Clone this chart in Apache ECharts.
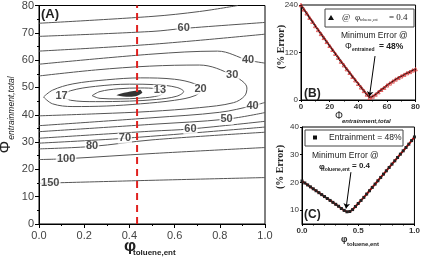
<!DOCTYPE html>
<html>
<head>
<meta charset="utf-8">
<script src="https://cdn.jsdelivr.net/npm/echarts@6/dist/echarts.min.js"></script>
<style>
  html, body { margin: 0; padding: 0; background: #fff; }
  #main { width: 423px; height: 258px; }
</style>
</head>
<body>
<div id="main"></div>
<script>
// (A) contour lines, [phi_toluene, Phi_entrainment]
const level150 = [[0,14.9],[0.5,16],[1,17]];
const level100 = [[0,23.6],[0.12,23.9],[0.5,25.8],[1,28]];
const level80 = [[0,27.5],[0.235,28.4],[0.5,30.8],[1,33.6]];
const level70low = [[0,29.6],[0.38,31.4],[1,35.5]];
const level60low = [[0,31.4],[0.5,34],[0.67,34.8],[1,37.6]];
const level50low = [[0,33.8],[0.5,36.5],[0.83,38.4],[1,40.8]];
const level40low = [[0,36],[0.5,38.9],[0.8,40.9],[0.945,43.3],[1,44.5]];
const level30 = [[0,54.2],[0.25,56.4],[0.49,57.8],[0.71,58.2],[0.855,54.5],[0.92,49.8],[0.91,46.9],[0.86,44.4],[0.71,42.6],[0.49,41.2],[0.27,40.4],[0,39.6]];
const level40up = [[0,58.5],[0.5,62.2],[0.79,63.3],[0.925,60],[1,58.9]];
const level50up = [[0,63.3],[0.5,65.8],[1,69.5]];
const level60up = [[0,68.7],[0.5,70.5],[0.64,71.6],[1,73.8]];
const level70up = [[0,73.5],[0.5,76],[0.71,77.8],[0.88,80]];
const level20 = [[0.02,46.5],[0.06,49],[0.15,51.3],[0.3,52.8],[0.45,53.5],[0.6,53],[0.69,51.3],[0.72,49.3],[0.69,47],[0.6,45.3],[0.45,44],[0.3,43.2],[0.15,43],[0.06,44],[0.02,46.5]];
const level17 = [[0.1,46.8],[0.14,48.8],[0.25,50.4],[0.4,51.2],[0.52,51],[0.61,50],[0.64,48.5],[0.61,46.8],[0.52,45.6],[0.4,45],[0.25,44.8],[0.14,45.3],[0.1,46.8]];
const level13 = [[0.235,47],[0.27,48.5],[0.35,49.5],[0.45,49.8],[0.52,49.5],[0.555,48.4],[0.53,47],[0.45,46.1],[0.35,45.8],[0.27,46],[0.235,47]];
const contourLines = [level150, level100, level80, level70low, level60low, level50low, level40low,
  level30, level40up, level50up, level60up, level70up, level20, level17, level13];

const labelText = ['150','100','80','70','60','50','40','30','40','60','20','13','17'];
const labelX = [0.05,0.12,0.235,0.38,0.67,0.83,0.945,0.855,0.925,0.64,0.715,0.535,0.1];
const labelY = [15,23.9,28.4,31.4,34.8,38.4,43.3,54.5,60,71.6,49.4,49,46.8];

const minimumPoint = [0.40, 47.9];
const phiSelected = 0.434;

// (B) error vs entrainment at phi_toluene = 0.4
const bX = [0,2,4,6,8,10,12,14,16,18,20,22,24,26,28,30,32,34,36,38,40,42,44,46,48,50,52,54,56,58,60,62,64,66,68,70,72,74,76,78,80];
const bY = [240,229,219,208,198,187,177,167,157,147,137,127,117,107,97,88,78,69,59,50,41,32,23,14,6,9,14,20,26,31,37,42,47,52,56,60,64,68,71,75,78];

// (C) error vs phi_toluene at entrainment = 48%
const cX = [0,0.025,0.05,0.075,0.1,0.125,0.15,0.175,0.2,0.225,0.25,0.275,0.3,0.325,0.35,0.375,0.4,0.425,0.45,0.475,0.5,0.525,0.55,0.575,0.6,0.625,0.65,0.675,0.7,0.725,0.75,0.775,0.8,0.825,0.85,0.875,0.9,0.925,0.95,0.975,1];
const cY = [20.5,19.8,19.1,18.4,17.7,17.0,16.3,15.6,14.9,14.2,13.5,12.8,12.1,11.4,10.6,9.9,9.4,9.5,10.2,11.3,12.4,13.5,14.6,15.8,17.0,18.2,19.4,20.6,21.8,23.0,24.2,25.4,26.6,27.8,29.0,30.2,31.4,32.6,33.8,35.1,36.4];

const FONT = '"Liberation Sans", Arial, sans-serif';
const SERIF = '"Liberation Serif", "Times New Roman", serif';

function axisBase(extra) {
  return Object.assign({
    type: 'value',
    axisLine: { show: true, onZero: false, lineStyle: { color: '#000', width: 1 } },
    axisTick: { show: true, inside: false, length: 4, lineStyle: { color: '#000' } },
    splitLine: { show: false },
    axisLabel: { fontFamily: FONT, color: '#444', fontSize: 11 }
  }, extra);
}

let chart = echarts.init(document.getElementById('main'), null, { renderer: 'canvas' });

let series = [];
contourLines.forEach(function (pts) {
  series.push({
    type: 'line', xAxisIndex: 0, yAxisIndex: 0, data: pts,
    showSymbol: false, smooth: 0.35, silent: true, z: 2,
    lineStyle: { color: '#555', width: 1 }
  });
});
series.push({
  type: 'scatter', xAxisIndex: 0, yAxisIndex: 0, z: 3, silent: true,
  symbolSize: 1, itemStyle: { color: 'rgba(0,0,0,0)' },
  data: labelText.map(function (t, i) { return [labelX[i], labelY[i], t]; }),
  label: {
    show: true, position: 'inside', formatter: function (p) { return p.value[2]; },
    fontFamily: FONT, fontSize: 11, fontWeight: 'bold', color: '#222',
    backgroundColor: '#fff', padding: [0, 1]
  }
});
series.push({
  type: 'scatter', xAxisIndex: 0, yAxisIndex: 0, z: 4, silent: true,
  symbol: 'path://M0,6 C6,3 16,2 26,0 L28,3 C24,8 14,9 0,6 Z',
  symbolSize: [26, 7], itemStyle: { color: '#000' },
  data: [minimumPoint]
});
series.push({
  type: 'line', xAxisIndex: 0, yAxisIndex: 0, z: 5, silent: true, showSymbol: false,
  data: [[phiSelected, 0], [phiSelected, 80]],
  lineStyle: { color: '#e0201e', width: 2, type: [7, 5] }
});
// (B)
series.push({
  type: 'line', xAxisIndex: 1, yAxisIndex: 1, silent: true,
  data: bX.map(function (x, i) { return [x, bY[i]]; }),
  symbol: 'triangle', symbolSize: 3.5, showAllSymbol: true,
  itemStyle: { color: 'rgba(0,0,0,0)', borderColor: '#d33', borderWidth: 0.8 },
  lineStyle: { color: '#111', width: 1.8 },
  markLine: {
    silent: true, symbol: ['none', 'arrow'], symbolSize: 5,
    label: { show: false },
    lineStyle: { color: '#000', width: 1, type: 'solid' },
    data: [[{ coord: [51.7, 111] }, { coord: [47.8, 9] }]]
  }
});
// (C)
series.push({
  type: 'line', xAxisIndex: 2, yAxisIndex: 2, silent: true,
  data: cX.map(function (x, i) { return [x, cY[i]]; }),
  symbol: 'rect', symbolSize: 3, showAllSymbol: true,
  itemStyle: { color: '#222' },
  lineStyle: { color: '#c00', width: 2 },
  markLine: {
    silent: true, symbol: ['none', 'arrow'], symbolSize: 5,
    label: { show: false },
    lineStyle: { color: '#000', width: 1, type: 'solid' },
    data: [[{ coord: [0.435, 23.7] }, { coord: [0.392, 10.6] }]]
  }
});

function txt(x, y, text, font, opts) {
  return Object.assign({
    type: 'text', x: x, y: y, z: 100, silent: true,
    style: Object.assign({
      text: text, font: font, fill: '#222',
      align: 'left', verticalAlign: 'middle',
      textAlign: 'left', textVerticalAlign: 'middle'
    }, (opts && opts.style) || {})
  }, (opts && opts.el) || {});
}
const R = { el: { rotation: Math.PI / 2 }, style: { align: 'center', textAlign: 'center' } };

let option = {
  animation: false,
  grid: [
    { left: 39, top: 4, width: 226, height: 220, show: true, borderColor: '#000', borderWidth: 1 },
    { left: 301, top: 5, width: 116, height: 95, show: true, borderColor: '#000', borderWidth: 1 },
    { left: 302, top: 127, width: 115, height: 97, show: true, borderColor: '#000', borderWidth: 1 }
  ],
  xAxis: [
    axisBase({ gridIndex: 0, min: 0, max: 1, interval: 0.2,
      minorTick: { show: true, splitNumber: 2, length: 2, lineStyle: { color: '#000' } },
      axisLabel: { fontFamily: FONT, color: '#444', fontSize: 11, margin: 6,
        formatter: function (v) { return v.toFixed(1); } } }),
    axisBase({ gridIndex: 1, min: 0, max: 80, interval: 20,
      axisTick: { show: true, length: 2, lineStyle: { color: '#000' } },
      minorTick: { show: true, splitNumber: 2, length: 1.5, lineStyle: { color: '#000' } },
      axisLabel: { fontFamily: FONT, color: '#333', fontSize: 8, fontWeight: 'bold', margin: 3 } }),
    axisBase({ gridIndex: 2, min: 0, max: 1, interval: 0.5,
      axisTick: { show: true, length: 2, lineStyle: { color: '#000' } },
      minorTick: { show: true, splitNumber: 5, length: 1.5, lineStyle: { color: '#000' } },
      axisLabel: { fontFamily: FONT, color: '#333', fontSize: 8, fontWeight: 'bold', margin: 3,
        formatter: function (v) { return v.toFixed(1); } } })
  ],
  yAxis: [
    axisBase({ gridIndex: 0, min: 0, max: 80, interval: 10,
      minorTick: { show: true, splitNumber: 2, length: 2, lineStyle: { color: '#000' } },
      axisLabel: { fontFamily: FONT, color: '#444', fontSize: 11, margin: 5 } }),
    axisBase({ gridIndex: 1, min: 0, max: 240, interval: 120,
      axisTick: { show: true, length: 2, lineStyle: { color: '#000' } },
      axisLabel: { fontFamily: FONT, color: '#333', fontSize: 8, margin: 3 } }),
    axisBase({ gridIndex: 2, min: 5, max: 40,
      axisTick: { show: true, length: 2, customValues: [10, 20, 30, 40], lineStyle: { color: '#000' } },
      axisLabel: { fontFamily: FONT, color: '#333', fontSize: 8, margin: 3, customValues: [10, 20, 30, 40] } })
  ],
  series: series,
  graphic: [
    // panel A
    txt(41, 14, '(A)', 'bold 13px ' + FONT),
    txt(124, 246, 'φ', 'bold 17px ' + FONT),
    txt(133, 253, 'toluene,ent', 'bold 8px ' + FONT),
    txt(6, 147, 'Φ', '16px ' + FONT, R),
    txt(12, 108, 'entrainment,total', 'italic 8.5px ' + FONT, R),
    // panel B
    txt(304, 94, '(B)', 'bold 12px ' + FONT),
    txt(281, 47, '(% Error)', 'bold 10px ' + SERIF, R),
    txt(335, 116, 'Φ', '10px ' + FONT),
    txt(342, 121, 'entrainment,total', 'italic bold 6px ' + FONT),
    { type: 'rect', z: 90, silent: true, shape: { x: 325, y: 9, width: 89, height: 18 },
      style: { fill: '#fff', stroke: '#444', lineWidth: 1 } },
    { type: 'polygon', z: 100, silent: true, shape: { points: [[331, 15], [334, 20], [328, 20]] },
      style: { fill: '#111' } },
    txt(342, 18, '@', '9px ' + SERIF),
    txt(355, 18, 'φ', '9px ' + SERIF),
    txt(360, 20, 'toluene,ent', '4px ' + SERIF),
    txt(389, 18, '= 0.4', '9px ' + SERIF),
    txt(341, 36, 'Minimum Error @', '8.5px ' + FONT),
    txt(345, 47, 'Φ', '8.5px ' + FONT),
    txt(352, 50, 'entrained', 'bold 5px ' + FONT),
    txt(379, 47, '= 48%', 'bold 8.5px ' + FONT),
    // panel C
    txt(304, 215, '(C)', 'bold 12px ' + FONT),
    txt(280, 167, '(% Error)', 'bold 10px ' + SERIF, R),
    txt(341, 240, 'φ', 'bold 9px ' + FONT),
    txt(347, 244, 'toluene,ent', 'bold 6px ' + FONT),
    { type: 'rect', z: 90, silent: true, shape: { x: 305, y: 130, width: 98, height: 16 },
      style: { fill: '#fff', stroke: '#444', lineWidth: 1 } },
    { type: 'rect', z: 100, silent: true, shape: { x: 313, y: 135.5, width: 4, height: 4 },
      style: { fill: '#111' } },
    txt(329, 138, 'Entrainment = 48%', '8.5px ' + FONT),
    txt(312, 156, 'Minimum Error @', '8.5px ' + FONT),
    txt(319, 167, 'φ', 'bold 8px ' + FONT),
    txt(323, 170, 'toluene,ent', 'bold 5px ' + FONT),
    txt(352, 166, '= 0.4', 'bold 8px ' + FONT)
  ]
};
chart.setOption(option);
</script>
</body>
</html>
